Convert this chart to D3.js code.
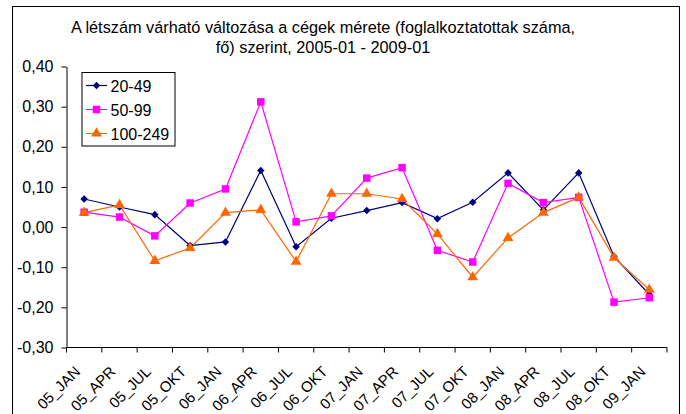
<!DOCTYPE html>
<html>
<head>
<meta charset="utf-8">
<script src="https://cdn.jsdelivr.net/npm/d3@7"></script>
<style>
  html, body { margin: 0; padding: 0; background: #fff; }
  svg { display: block; }
  text { font-family: "Liberation Sans", Arial, sans-serif; fill: #000; }
</style>
</head>
<body>
<svg id="chart" width="686" height="414"></svg>
<script>
const categories = ["05_JAN","05_APR","05_JUL","05_OKT","06_JAN","06_APR","06_JUL","06_OKT","07_JAN","07_APR","07_JUL","07_OKT","08_JAN","08_APR","08_JUL","08_OKT","09_JAN"];
const s20_49   = [0.070, 0.050, 0.031, -0.046, -0.037, 0.141, -0.049, 0.022, 0.041, 0.061, 0.021, 0.062, 0.135, 0.043, 0.135, -0.073, -0.168];
const s50_99   = [0.037, 0.025, -0.022, 0.060, 0.095, 0.312, 0.013, 0.028, 0.122, 0.148, -0.058, -0.087, 0.109, 0.061, 0.074, -0.187, -0.176];
const s100_249 = [0.036, 0.055, -0.084, -0.052, 0.036, 0.043, -0.086, 0.083, 0.083, 0.070, -0.017, -0.125, -0.027, 0.036, 0.074, -0.076, -0.156];
const seriesNames = ["20-49", "50-99", "100-249"];
const yTicks = [-0.3, -0.2, -0.1, 0.0, 0.1, 0.2, 0.3, 0.4];
const yTickLabels = ["-0,30", "-0,20", "-0,10", "0,00", "0,10", "0,20", "0,30", "0,40"];
const titleLines = ["A létszám várható változása a cégek mérete (foglalkoztatottak száma,", "fő) szerint, 2005-01 - 2009-01"];

const series = [
  { name: seriesNames[0], values: s20_49,   color: "#000080", symbol: d3.symbolDiamond2, size: 36 },
  { name: seriesNames[1], values: s50_99,   color: "#FF00FF", symbol: d3.symbolSquare,   size: 56 },
  { name: seriesNames[2], values: s100_249, color: "#FF6600", symbol: d3.symbolTriangle, size: 50 }
];

const svg = d3.select("#chart");

// outer frame
svg.append("rect")
  .attr("x", 12.5).attr("y", 6.5)
  .attr("width", 667).attr("height", 420)
  .attr("fill", "none").attr("stroke", "#000").attr("stroke-width", 1);

const pLeft = 66.5, pRight = 667, pTop = 66.5, pBottom = 347.5;

const x = d3.scaleBand().domain(categories).range([pLeft, pRight]);
const y = d3.scaleLinear().domain([-0.3, 0.4]).range([pBottom, pTop]);

// title
const title = svg.append("text")
  .attr("x", 323).attr("y", 33.3)
  .attr("text-anchor", "middle")
  .style("font-size", "16.3px");
titleLines.forEach((t, i) => {
  title.append("tspan").attr("x", 323).attr("dy", i === 0 ? 0 : 20).text(t);
});

// y axis
const yAxis = d3.axisLeft(y)
  .tickValues(yTicks)
  .tickFormat((d, i) => yTickLabels[i])
  .tickSizeInner(5).tickSizeOuter(0).tickPadding(8);
const gy = svg.append("g").attr("transform", `translate(${pLeft},0)`).call(yAxis);
gy.selectAll("text").style("font-size", "16px").style("font-family", "'Liberation Sans', Arial, sans-serif");
gy.select(".domain").attr("stroke", "#000");
gy.selectAll(".tick line").attr("stroke", "#000");

// x axis
const xAxis = d3.axisBottom(x).tickSize(0).tickPadding(0);
const gx = svg.append("g").attr("transform", `translate(0,${pBottom})`).call(xAxis);
gx.select(".domain").attr("d", `M${pLeft},0H${pRight}`).attr("stroke", "#000");
gx.selectAll(".tick text")
  .style("font-size", "15px")
  .style("font-family", "'Liberation Sans', Arial, sans-serif")
  .attr("text-anchor", "end")
  .attr("dy", null)
  .attr("transform", "translate(-3,25) rotate(-45)");
// tick marks between categories
const boundaries = d3.range(categories.length + 1).map(i => pLeft + i * x.step());
gx.selectAll(".btick").data(boundaries).enter().append("line")
  .attr("class", "btick")
  .attr("x1", d => d).attr("x2", d => d)
  .attr("y1", 0).attr("y2", 5)
  .attr("stroke", "#000");

// lines and markers
const line = d3.line()
  .x((d, i) => x(categories[i]) + x.bandwidth() / 2)
  .y(d => y(d));

series.forEach(s => {
  svg.append("path")
    .attr("d", line(s.values))
    .attr("fill", "none")
    .attr("stroke", s.color)
    .attr("stroke-width", 1.2);
});
series.forEach(s => {
  const sym = d3.symbol().type(s.symbol).size(s.size);
  svg.selectAll(null).data(s.values).enter().append("path")
    .attr("d", sym)
    .attr("transform", (d, i) => `translate(${x(categories[i]) + x.bandwidth() / 2},${y(d)})`)
    .attr("fill", s.color);
});

// legend
const lg = svg.append("g");
lg.append("rect")
  .attr("x", 82).attr("y", 72.5)
  .attr("width", 93).attr("height", 73.5)
  .attr("fill", "#fff").attr("stroke", "#000");
series.forEach((s, i) => {
  const cy = 85.5 + i * 24;
  lg.append("line").attr("x1", 86).attr("x2", 107).attr("y1", cy).attr("y2", cy)
    .attr("stroke", s.color).attr("stroke-width", 1.2);
  lg.append("path").attr("d", d3.symbol().type(s.symbol).size(s.size))
    .attr("transform", `translate(96.5,${cy})`).attr("fill", s.color);
  lg.append("text").attr("x", 110.5).attr("y", cy + 6)
    .style("font-size", "16px").text(s.name);
});
</script>
</body>
</html>
